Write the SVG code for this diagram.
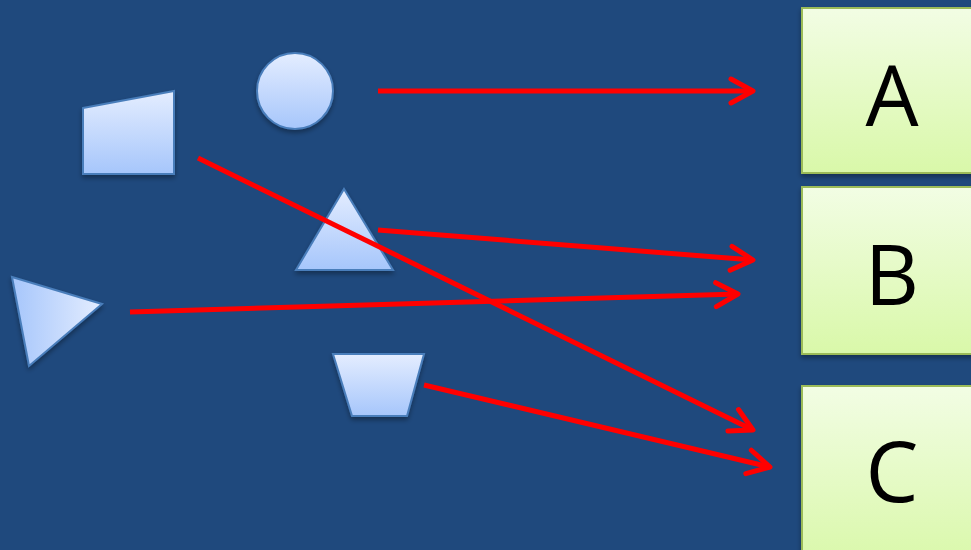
<svg xmlns="http://www.w3.org/2000/svg" width="971" height="550" viewBox="0 0 971 550">
<defs>
<linearGradient id="gShape" x1="0" y1="0" x2="0" y2="1">
<stop offset="0" stop-color="#E4EDFF"/>
<stop offset="1" stop-color="#A6C6FB"/>
</linearGradient>
<linearGradient id="gTri" x1="1" y1="0" x2="0" y2="0">
<stop offset="0" stop-color="#E4EDFF"/>
<stop offset="1" stop-color="#A6C6FB"/>
</linearGradient>
<linearGradient id="gBox" x1="0" y1="0" x2="0" y2="1">
<stop offset="0" stop-color="#F2FDE4"/>
<stop offset="1" stop-color="#D9F8A9"/>
</linearGradient>
<filter id="sh" x="-20%" y="-20%" width="140%" height="140%">
<feDropShadow dx="0" dy="3" stdDeviation="2.5" flood-color="#000" flood-opacity="0.35"/>
</filter>
<marker id="arr" markerUnits="userSpaceOnUse" markerWidth="40" markerHeight="40" refX="0" refY="0" orient="auto" overflow="visible">
<path d="M -22 -12 L 0 0 L -22 12" fill="none" stroke="#FF0000" stroke-width="5" stroke-linecap="round" stroke-linejoin="round"/>
</marker>
</defs>
<style>
.shape{fill:url(#gShape);stroke:#4A7EBB;stroke-width:2;filter:url(#sh)}
.box{fill:url(#gBox);stroke:#9BBB59;stroke-width:2;filter:url(#sh)}
.lbl{font-family:"Open Sans","Liberation Sans",sans-serif;font-size:84px;fill:#000;text-anchor:middle}
.conn{fill:none;stroke:#FF0000;stroke-width:5;marker-end:url(#arr)}
</style>
<rect x="0" y="0" width="971" height="550" fill="#1F497D"/>
<g id="quad"><polygon class="shape" points="83,108 174,91 174,174 83,174"/></g>
<g id="circle"><circle class="shape" cx="295" cy="91" r="38"/></g>
<g id="triangle-up"><polygon class="shape" points="344,189 393,270 296,270"/></g>
<g id="triangle-right"><polygon class="shape" style="fill:url(#gTri)" points="12,277 102,304 29,366"/></g>
<g id="trapezoid"><polygon class="shape" points="333,354 424,354 407,416 352,416"/></g>
<g id="boxA"><rect class="box" x="802" y="8" width="190" height="165"/><text class="lbl" x="892" y="126">A</text></g>
<g id="boxB"><rect class="box" x="802" y="187" width="190" height="167"/><text class="lbl" x="892" y="305">B</text></g>
<g id="boxC"><rect class="box" x="802" y="386" width="190" height="180"/><text class="lbl" x="892" y="502">C</text></g>
<g id="connectors">
<line class="conn" x1="378" y1="91" x2="753" y2="91"/>
<line class="conn" x1="378" y1="230" x2="753" y2="260"/>
<line class="conn" x1="130" y1="312" x2="738" y2="294"/>
<line class="conn" x1="198" y1="158" x2="753" y2="430"/>
<line class="conn" x1="424" y1="385" x2="770" y2="467"/>
</g>
</svg>
